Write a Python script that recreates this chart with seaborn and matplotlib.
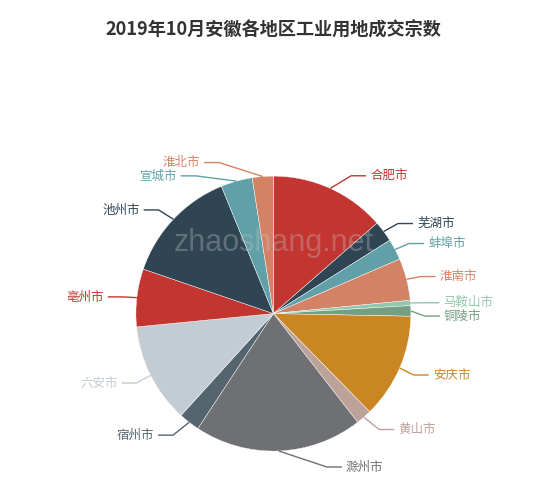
import numpy as np
import matplotlib
matplotlib.use("Agg")
import matplotlib.pyplot as plt
import seaborn as sns

# ---- data ----
cities = ["合肥市", "芜湖市", "蚌埠市", "淮南市", "马鞍山市", "铜陵市", "安庆市", "黄山市",
          "滁州市", "宿州市", "六安市", "亳州市", "池州市", "宣城市", "淮北市"]
counts = [22, 4, 4, 8, 1, 2, 20, 3, 32, 4, 19, 11, 22, 6, 4]
title_text = "2019年10月安徽各地区工业用地成交宗数"
watermark_text = "zhaoshang.net"

# ---- style ----
sns.set_theme(style="white")
plt.rcParams['font.family'] = ['Noto Sans CJK SC', 'DejaVu Sans']

base_colors = ['#c23531', '#2f4554', '#61a0a8', '#d48265', '#91c7ae', '#749f83',
               '#ca8622', '#bda29a', '#6e7074', '#546570', '#c4ccd3']
palette = sns.color_palette(base_colors, n_colors=len(cities))

W, H = 550, 490
fig = plt.figure(figsize=(W / 100, H / 100), dpi=100)
fig.patch.set_facecolor('white')
ax = fig.add_axes([0, 0, 1, 1])

cx, cy_px, R = 273.4, 313.6, 137.5
cy = H - cy_px

wedges, _ = ax.pie(counts, colors=palette, startangle=90, counterclock=False,
                   center=(cx, cy), radius=R,
                   wedgeprops=dict(linewidth=0.3, edgecolor='white'))
ax.set_xlim(0, W)
ax.set_ylim(0, H)
ax.set_aspect('equal')
ax.axis('off')

# ---- ECharts-like outside labels ----
L1, L2 = 15, 15
total = float(sum(counts))
cum = np.cumsum([0] + counts[:-1])
items = []
for i, (name, v) in enumerate(zip(cities, counts)):
    mid = np.deg2rad((cum[i] + v / 2) / total * 360.0)
    s, c = np.sin(mid), np.cos(mid)
    side = 1 if s >= 0 else -1
    ex, ey = cx + R * s, cy_px - R * c
    ly = cy_px - (R + L1) * c
    lx0 = cx + (R + L1) * s + side * L2
    items.append(dict(i=i, name=name, side=side, ex=ex, ey=ey, y=ly, x0=lx0))

min_gap = 13.3
for side in (1, -1):
    grp = sorted([it for it in items if it['side'] == side], key=lambda d: d['y'])
    for j in range(1, len(grp)):
        if grp[j]['y'] < grp[j - 1]['y'] + min_gap:
            grp[j]['y'] = grp[j - 1]['y'] + min_gap
    for it in grp:
        dy = abs(it['y'] - cy_px)
        if dy < R + L1:
            dX = np.sqrt((R + L1 + L2) ** 2 - dy ** 2)
        else:
            dX = abs(it['x0'] - cx)
        it['x'] = cx + side * dX

for it in items:
    col = palette[it['i']]
    side = it['side']
    lx, ly = it['x'], it['y']
    yd = ly + 1.0  # small vertical offset of label text/line
    xs = [it['ex'], lx - side * 16, lx - side * 1]
    ys = [H - it['ey'], H - yd, H - yd]
    ax.plot(xs, ys, color=col, lw=1.0, solid_capstyle='butt')
    ax.text(lx + side * 3, H - yd, it['name'], color=col, fontsize=9,
            ha='left' if side > 0 else 'right', va='center')

# watermark
ax.text(274, H - 243, watermark_text, fontsize=22, family=['Liberation Sans', 'DejaVu Sans'],
        color='#c8c8c8', alpha=0.32, ha='center', va='center')

# title
fig.text(273 / W, 1 - 30 / H, title_text, fontsize=13.1, fontweight='bold',
         color='#333333', ha='center', va='center')

fig.savefig('out.png', dpi=100, facecolor='white')
